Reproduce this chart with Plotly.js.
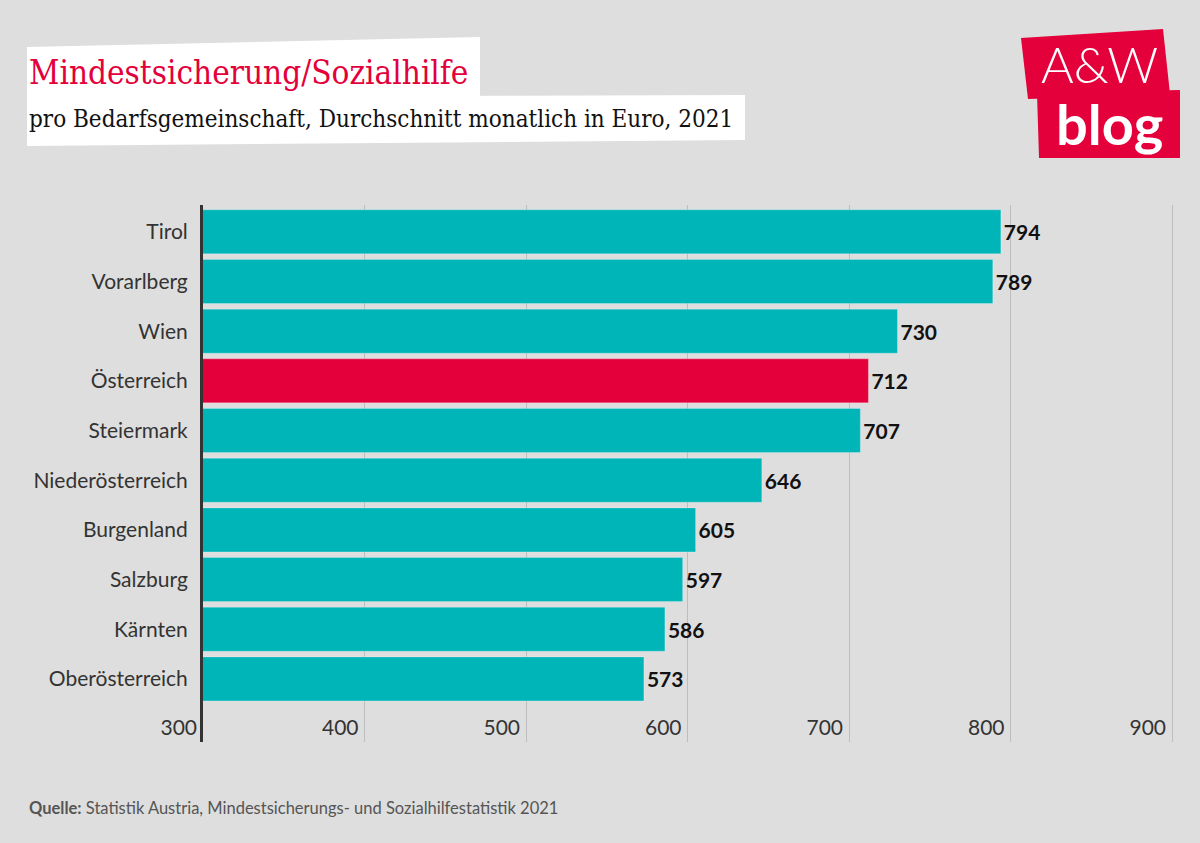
<!DOCTYPE html>
<html>
<head>
<meta charset="utf-8">
<script src="https://cdn.plot.ly/plotly-3.0.1.min.js"></script>
<style>
html,body{margin:0;padding:0;background:#dedede;}
#chart{width:1200px;height:843px;}
</style>
</head>
<body>
<div id="chart"></div>
<script>
const regions = ["Tirol","Vorarlberg","Wien","Österreich","Steiermark","Niederösterreich","Burgenland","Salzburg","Kärnten","Oberösterreich"];
const values = [794,789,730,712,707,646,605,597,586,573];
const highlight = "Österreich";
const xTicks = [300,400,500,600,700,800,900];
const titleText = "Mindestsicherung/Sozialhilfe";
const subtitleText = "pro Bedarfsgemeinschaft, Durchschnitt monatlich in Euro, 2021";
const sourceLabel = "Quelle:";
const sourceText = "Statistik Austria, Mindestsicherungs- und Sozialhilfestatistik 2021";

const TEAL = "#00b5b8", RED = "#e4003b";
const W = 1200, H = 843;
const M = {l:203, r:26, t:205, b:101};
const pw = W - M.l - M.r, ph = H - M.t - M.b;
const px = x => (x - M.l) / pw;
const py = y => (H - M.b - y) / ph;
function poly(pts){ return "M" + pts.map(p => px(p[0]) + "," + py(p[1])).join(" L") + " Z"; }

const trace = {
  type: "bar",
  orientation: "h",
  y: regions,
  x: values,
  marker: {color: regions.map(r => r === highlight ? RED : TEAL), line: {color: "rgba(255,255,255,0.25)", width: 1}},
  text: values.map(v => String(v)),
  textposition: "outside",
  textfont: {family: "Lato", size: 21, color: "#111", weight: 700},
  cliponaxis: false,
  hoverinfo: "none"
};

const layout = {
  width: W, height: H,
  paper_bgcolor: "#dedede", plot_bgcolor: "#dedede",
  margin: M,
  showlegend: false,
  bargap: 0.114,
  font: {family: "Lato", color: "#333"},
  xaxis: {
    range: [300, 901.2],
    tickvals: xTicks,
    ticktext: xTicks.map(String),
    showgrid: true, gridcolor: "#bdbdbd", gridwidth: 1,
    zeroline: false, showline: false, ticks: "",
    ticklabelposition: "inside left",
    ticklabeloverflow: "allow",
    ticklabelshift: -6,
    ticklabelstandoff: -3,
    tickfont: {family: "Lato", size: 21, color: "#333"},
    fixedrange: true
  },
  yaxis: {
    type: "category",
    categoryorder: "array", categoryarray: regions,
    range: [10.27, -0.54],
    showgrid: false, zeroline: false,
    showline: true, linecolor: "#333", linewidth: 3,
    ticks: "", ticklabelstandoff: 8,
    tickfont: {family: "Lato", size: 21, color: "#333"},
    fixedrange: true
  },
  shapes: [
    {type:"path", xref:"paper", yref:"paper", path: poly([[27,47],[480,37],[480,98],[27,98]]), fillcolor:"#ffffff", line:{width:0}, layer:"below"},
    {type:"path", xref:"paper", yref:"paper", path: poly([[27,97],[745,95],[745,140],[27,146]]), fillcolor:"#ffffff", line:{width:0}, layer:"below"},
    {type:"path", xref:"paper", yref:"paper", path: poly([[1021,38],[1163,29],[1170,94],[1028,99]]), fillcolor:RED, line:{width:0}},
    {type:"path", xref:"paper", yref:"paper", path: poly([[1037,93],[1180,90],[1180,158],[1039,158]]), fillcolor:RED, line:{width:0}}
  ],
  annotations: [
    {xref:"paper", yref:"paper", x: px(27), y: py(72), xanchor:"left", yanchor:"middle", showarrow:false,
     text: titleText, font:{family:"DejaVu Serif Condensed, DejaVu Serif", size:33, color:RED}},
    {xref:"paper", yref:"paper", x: px(27), y: py(119), xanchor:"left", yanchor:"middle", showarrow:false,
     text: subtitleText, font:{family:"DejaVu Serif Condensed, DejaVu Serif", size:24, color:"#111"}},
    {xref:"paper", yref:"paper", x: px(1099), y: py(64), xanchor:"center", yanchor:"middle", showarrow:false,
     text: "A&amp;W", font:{family:"Lato", size:50, color:"#ffffff", weight:300}},
    {xref:"paper", yref:"paper", x: px(1109), y: py(123), xanchor:"center", yanchor:"middle", showarrow:false,
     text: "<b>blog</b>", font:{family:"Lato", size:56, color:"#ffffff", weight:900}},
    {xref:"paper", yref:"paper", x: px(27), y: py(808), xanchor:"left", yanchor:"middle", showarrow:false,
     text: "<b>" + sourceLabel + "</b> " + sourceText, font:{family:"Lato", size:16.5, color:"#555"}}
  ]
};

Plotly.newPlot("chart", [trace], layout, {staticPlot: true, displayModeBar: false});
</script>
</body>
</html>
